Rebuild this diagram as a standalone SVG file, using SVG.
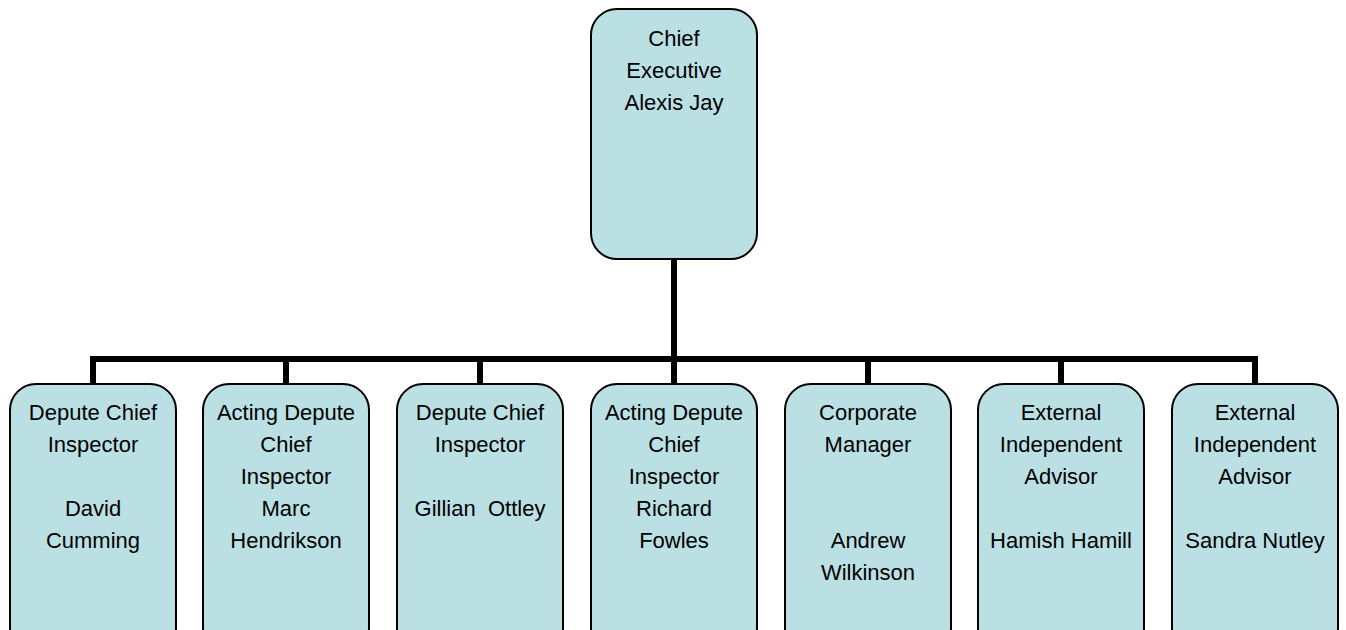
<svg xmlns="http://www.w3.org/2000/svg" width="1346" height="630" viewBox="0 0 1346 630">
<style>
.box{fill:#BBE0E3;stroke:#000;stroke-width:2}
.t{font-family:"Liberation Sans",Arial,sans-serif;font-size:22px;fill:#000;text-anchor:middle}
.c{fill:none;stroke:#000;stroke-width:6;stroke-linecap:butt}
</style>
<rect width="1346" height="630" fill="#fff"/>
<g id="connectors">
<line class="c" x1="674" y1="259" x2="674" y2="359"/>
<line class="c" x1="90" y1="359" x2="1258" y2="359"/>
<line class="c" x1="93" y1="359" x2="93" y2="384"/>
<line class="c" x1="286" y1="359" x2="286" y2="384"/>
<line class="c" x1="480" y1="359" x2="480" y2="384"/>
<line class="c" x1="674" y1="359" x2="674" y2="384"/>
<line class="c" x1="868" y1="359" x2="868" y2="384"/>
<line class="c" x1="1061" y1="359" x2="1061" y2="384"/>
<line class="c" x1="1255" y1="359" x2="1255" y2="384"/>
</g>
<g id="ceo">
<rect class="box" x="591" y="9" width="166" height="250" rx="26"/>
<text class="t" x="674" y="46">Chief</text>
<text class="t" x="674" y="78">Executive</text>
<text class="t" x="674" y="110">Alexis Jay</text>
</g>
<g id="n1">
<rect class="box" x="10" y="384" width="166" height="270" rx="26"/>
<text class="t" x="93" y="420">Depute Chief</text>
<text class="t" x="93" y="452">Inspector</text>
<text class="t" x="93" y="516">David</text>
<text class="t" x="93" y="548">Cumming</text>
</g>
<g id="n2">
<rect class="box" x="203" y="384" width="166" height="270" rx="26"/>
<text class="t" x="286" y="420">Acting Depute</text>
<text class="t" x="286" y="452">Chief</text>
<text class="t" x="286" y="484">Inspector</text>
<text class="t" x="286" y="516">Marc</text>
<text class="t" x="286" y="548">Hendrikson</text>
</g>
<g id="n3">
<rect class="box" x="397" y="384" width="166" height="270" rx="26"/>
<text class="t" x="480" y="420">Depute Chief</text>
<text class="t" x="480" y="452">Inspector</text>
<text class="t" x="480" y="516" xml:space="preserve">Gillian  Ottley</text>
</g>
<g id="n4">
<rect class="box" x="591" y="384" width="166" height="270" rx="26"/>
<text class="t" x="674" y="420">Acting Depute</text>
<text class="t" x="674" y="452">Chief</text>
<text class="t" x="674" y="484">Inspector</text>
<text class="t" x="674" y="516">Richard</text>
<text class="t" x="674" y="548">Fowles</text>
</g>
<g id="n5">
<rect class="box" x="785" y="384" width="166" height="270" rx="26"/>
<text class="t" x="868" y="420">Corporate</text>
<text class="t" x="868" y="452">Manager</text>
<text class="t" x="868" y="548">Andrew</text>
<text class="t" x="868" y="580">Wilkinson</text>
</g>
<g id="n6">
<rect class="box" x="978" y="384" width="166" height="270" rx="26"/>
<text class="t" x="1061" y="420">External</text>
<text class="t" x="1061" y="452">Independent</text>
<text class="t" x="1061" y="484">Advisor</text>
<text class="t" x="1061" y="548">Hamish Hamill</text>
</g>
<g id="n7">
<rect class="box" x="1172" y="384" width="166" height="270" rx="26"/>
<text class="t" x="1255" y="420">External</text>
<text class="t" x="1255" y="452">Independent</text>
<text class="t" x="1255" y="484">Advisor</text>
<text class="t" x="1255" y="548">Sandra Nutley</text>
</g>
</svg>
